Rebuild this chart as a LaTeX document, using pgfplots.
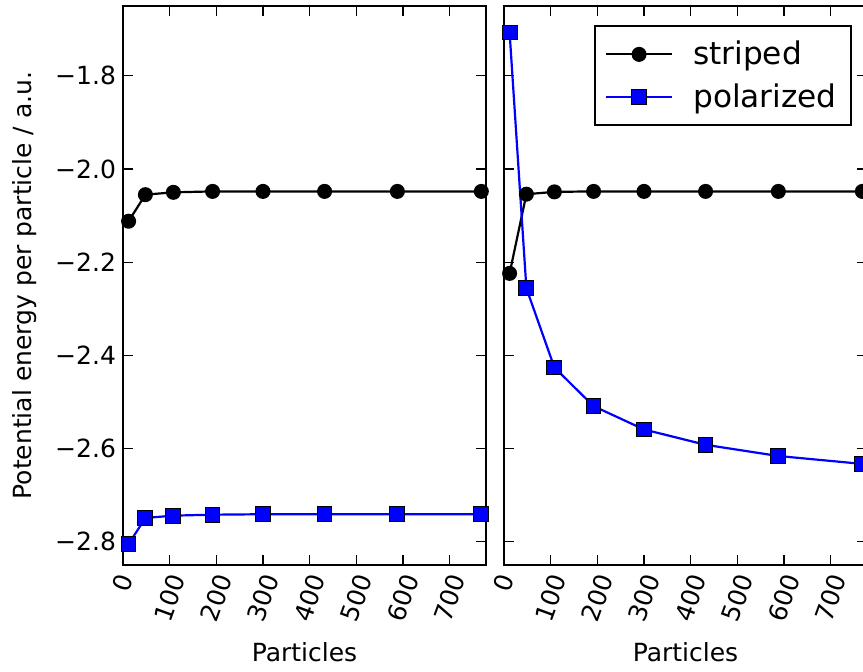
\documentclass[border=0pt]{standalone}
\usepackage{pgfplots}
\pgfplotsset{compat=1.18}
\usepackage{graphicx}
\usepackage{fontspec}
\setmainfont{DejaVu Sans}

\definecolor{mplblue}{RGB}{0,0,255}

\pgfplotsset{
  panel/.style={
    scale only axis,
    width=181.5pt, height=279.5pt,
    xmin=0, xmax=778,
    ymin=-2.85, ymax=-1.65,
    axis line style={line width=1.1pt},
    tick style={black, line width=0.6pt},
    major tick length=5pt,
    tick align=inside,
    xtick={0,100,200,300,400,500,600,700},
    xticklabels={\rotatebox{70}{0},\rotatebox{70}{100},\rotatebox{70}{200},\rotatebox{70}{300},
                 \rotatebox{70}{400},\rotatebox{70}{500},\rotatebox{70}{600},\rotatebox{70}{700}},
    xticklabel style={anchor=north, inner sep=0pt, yshift=-3.5pt, font=\fontsize{12.5}{14}\selectfont},
    ytick={-2.8,-2.6,-2.4,-2.2,-2.0,-1.8},
    yticklabel style={font=\fontsize{12.5}{14}\selectfont},
    xlabel={Particles},
    xlabel style={at={(axis description cs:0.5,0)}, anchor=center, yshift=-43.5pt,
                  font=\fontsize{12.5}{14}\selectfont},
  },
  striped/.style={black, line width=1.1pt, mark=*, mark size=3.2pt,
                  mark options={fill=black, draw=black}},
  polarized/.style={mplblue, line width=1.1pt, mark=square*, mark size=3.7pt,
                    mark options={fill=mplblue, draw=black, line width=0.5pt}},
}

% energies per particle for N = 12 n^2, n = 1..8
\pgfplotstableread{
N    striped   polarized
12   -2.112    -2.805
48   -2.055    -2.749
108  -2.050    -2.744
192  -2.048    -2.742
300  -2.048    -2.741
432  -2.048    -2.741
588  -2.048    -2.741
768  -2.048    -2.741
}\leftdata

\pgfplotstableread{
N    striped   polarized
12   -2.224    -1.707
48   -2.054    -2.256
108  -2.049    -2.426
192  -2.048    -2.509
300  -2.048    -2.559
432  -2.048    -2.592
588  -2.048    -2.616
768  -2.048    -2.633
}\rightdata

\begin{document}
\begin{tikzpicture}
\begin{axis}[panel,
    yticklabels={−2.8,−2.6,−2.4,−2.2,−2.0,−1.8},
    ylabel={Potential energy per particle / a.u.},
    ylabel style={at={(axis description cs:-0.27,0.5)}, anchor=center, rotate=0,
                  font=\fontsize{12.5}{14}\selectfont},
  ]
  \addplot[striped] table[x=N, y=striped] {\leftdata};
  \addplot[polarized] table[x=N, y=polarized] {\leftdata};
\end{axis}

\begin{axis}[panel, at={(190.5pt,0pt)},
    yticklabels={},
    legend style={at={(axis description cs:0.958,0.966)}, anchor=north east,
                  draw=black, line width=1pt, font=\fontsize{15.6}{18}\selectfont,
                  inner xsep=5pt, inner ysep=5.5pt, row sep=4pt,
                  /tikz/every odd column/.append style={column sep=8pt}},
    legend cell align=left,
    legend image code/.code={
      \draw[mark repeat=2, mark phase=2] plot coordinates {(0pt,0pt) (16.5pt,0pt) (33pt,0pt)};
    },
  ]
  \addplot[striped] table[x=N, y=striped] {\rightdata};
  \addlegendentry{striped}
  \addplot[polarized] table[x=N, y=polarized] {\rightdata};
  \addlegendentry{polarized}
\end{axis}

\pgfresetboundingbox
\useasboundingbox (-61.5pt,-53pt) rectangle (370pt,282.5pt);
\end{tikzpicture}
\end{document}
